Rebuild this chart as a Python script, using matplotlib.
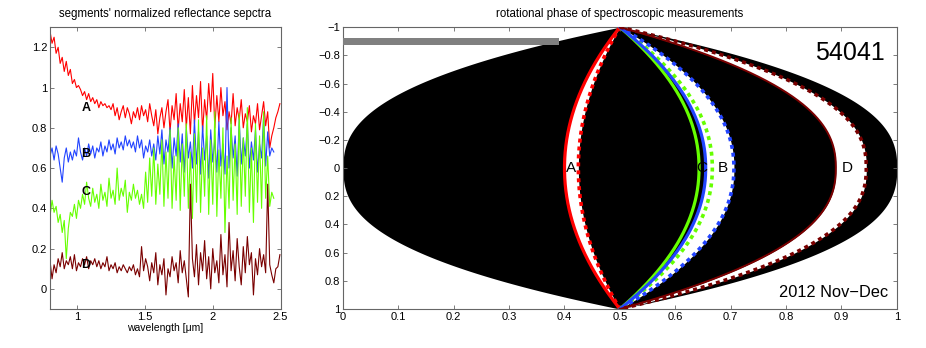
import numpy as np
import matplotlib
matplotlib.use('Agg')
import matplotlib.pyplot as plt

plt.rcParams['font.family'] = ['Liberation Sans', 'DejaVu Sans']

# --- left panel: normalized reflectance spectra ---
wl_start = 0.80
wl_step = 0.015

spec_A = [1.28, 1.22, 1.25, 1.17, 1.20, 1.12, 1.15, 1.08, 1.13, 1.06, 1.09, 1.02, 1.04, 1.00,
          1.01, 0.99, 0.96, 0.98, 0.94, 0.97, 0.93, 0.95, 0.92, 0.94, 0.90, 0.93, 0.91, 0.92,
          0.90, 0.91, 0.89, 0.92, 0.86, 0.90, 0.84, 0.88, 0.91, 0.85, 0.90, 0.87, 0.82, 0.88,
          0.85, 0.90, 0.84, 0.91, 0.86, 0.89, 0.83, 0.92, 0.86, 0.81, 0.89, 0.77, 0.85, 0.90,
          0.80, 0.88, 0.94, 0.78, 0.91, 0.84, 0.97, 0.79, 0.92, 0.83, 0.99, 0.80, 0.95, 0.77,
          1.01, 0.82, 0.96, 0.85, 1.03, 0.78, 0.94, 0.84, 1.02, 0.88, 1.07, 0.80, 0.96, 0.83,
          1.00, 0.86, 0.93, 0.79, 0.88, 0.82, 0.97, 0.81, 0.90, 0.84, 0.94, 0.80, 0.87, 0.83,
          0.91, 0.78, 0.86, 0.82, 0.92, 0.79, 0.86, 0.93, 0.81, 0.88, 0.70, 0.76, 0.80, 0.85,
          0.88, 0.92]

spec_B = [0.66, 0.70, 0.64, 0.71, 0.67, 0.60, 0.53, 0.65, 0.70, 0.63, 0.68, 0.64, 0.69, 0.66,
          0.75, 0.68, 0.64, 0.70, 0.66, 0.72, 0.67, 0.71, 0.65, 0.70, 0.68, 0.73, 0.66, 0.71,
          0.68, 0.74, 0.69, 0.72, 0.67, 0.75, 0.70, 0.73, 0.69, 0.76, 0.71, 0.74, 0.70, 0.73,
          0.68, 0.76, 0.70, 0.74, 0.65, 0.71, 0.68, 0.74, 0.66, 0.72, 0.64, 0.76, 0.67, 0.79,
          0.62, 0.74, 0.68, 0.80, 0.60, 0.75, 0.66, 0.82, 0.63, 0.77, 0.58, 0.80, 0.65, 0.73,
          0.60, 0.84, 0.62, 0.78, 0.57, 0.81, 0.64, 0.76, 0.55, 0.79, 0.63, 0.74, 0.58, 0.83,
          0.61, 0.72, 0.57, 1.00, 0.60, 0.80, 0.65, 0.76, 0.56, 0.84, 0.62, 0.75, 0.66, 0.82,
          0.60, 0.73, 0.64, 0.79, 0.58, 0.72, 0.65, 0.86, 0.61, 0.78, 0.66, 0.70, 0.68]

spec_C = [0.36, 0.44, 0.38, 0.41, 0.33, 0.37, 0.28, 0.34, 0.15, 0.30, 0.38, 0.36, 0.42, 0.35,
          0.44, 0.40, 0.47, 0.42, 0.53, 0.45, 0.41, 0.50, 0.43, 0.47, 0.40, 0.52, 0.44, 0.48,
          0.41, 0.55, 0.45, 0.49, 0.42, 0.60, 0.44, 0.50, 0.46, 0.54, 0.38, 0.48, 0.44, 0.52,
          0.45, 0.49, 0.42, 0.47, 0.40, 0.58, 0.43, 0.65, 0.46, 0.70, 0.42, 0.62, 0.47, 0.74,
          0.41, 0.68, 0.45, 0.79, 0.40, 0.66, 0.44, 0.80, 0.39, 0.72, 0.46, 0.82, 0.40, 0.68,
          0.35, 0.77, 0.43, 0.84, 0.38, 0.70, 0.46, 0.86, 0.37, 0.74, 0.42, 0.88, 0.36, 0.69,
          0.45, 0.80, 0.28, 0.66, 0.40, 0.85, 0.44, 0.72, 0.37, 0.87, 0.41, 0.75, 0.46, 0.90,
          0.38, 0.70, 0.33, 0.82, 0.43, 0.76, 0.40, 0.88, 0.45, 0.66, 0.41, 0.48, 0.45]

spec_D = [0.14, 0.05, 0.12, 0.08, 0.15, 0.11, 0.18, 0.10, 0.14, 0.12, 0.16, 0.10, 0.17, 0.09,
          0.13, 0.11, 0.15, 0.12, 0.16, 0.10, 0.14, 0.12, 0.15, 0.11, 0.14, 0.10, 0.13, 0.11,
          0.16, 0.09, 0.12, 0.10, 0.13, 0.08, 0.11, 0.09, 0.12, 0.10, 0.08, 0.11, 0.09, 0.12,
          0.07, 0.10, 0.06, 0.21, 0.09, 0.15, 0.11, 0.04, 0.13, 0.08, 0.18, 0.02, 0.12, 0.07,
          0.15, -0.03, 0.10, 0.06, 0.16, 0.09, 0.13, 0.03, 0.19, 0.08, 0.14, 0.05, -0.04, 0.52,
          0.15, 0.06, 0.22, 0.02, 0.18, 0.09, 0.24, 0.05, 0.16, 0.00, 0.20, 0.08, 0.14, 0.03,
          0.27, 0.07, 0.17, 0.01, 0.33, 0.09, 0.19, 0.04, 0.25, 0.11, 0.02, 0.21, 0.08, 0.26,
          0.12, 0.18, -0.03, 0.15, 0.07, 0.20, 0.11, 0.17, 0.08, 0.52, 0.12, 0.07, 0.03, 0.10,
          0.11, 0.17]

seg_names = ['A', 'B', 'C', 'D']
seg_colors = ['#ff0000', '#2244ff', '#66ff00', '#7a0000']
spec_label_y = [0.90, 0.67, 0.48, 0.12]

# --- right panel: rotational phases (at the equator) of the measurements ---
phase_start = [0.400, 0.655, 0.643, 0.890]
phase_end = [0.425, 0.706, 0.667, 0.945]
phase_label_x = [0.412, 0.686, 0.648, 0.911]
coverage_bar = 0.39

fig = plt.figure(figsize=(9.26, 3.48), dpi=100)
ax1 = fig.add_axes([0.054, 0.112, 0.249, 0.810])
ax2 = fig.add_axes([0.3704, 0.112, 0.598, 0.810])

for spec, col in zip([spec_A, spec_B, spec_C, spec_D], seg_colors):
    w = wl_start + wl_step * np.arange(len(spec))
    ax1.plot(w, spec, color=col, lw=0.8)
for name, yy in zip(seg_names, spec_label_y):
    ax1.text(1.03, yy, name, fontsize=9, fontweight='bold', va='center', ha='left')

ax1.set_xlim(0.8, 2.5)
ax1.set_ylim(-0.1, 1.3)
ax1.set_xticks([1, 1.5, 2, 2.5])
ax1.set_xticklabels(['1', '1.5', '2', '2.5'])
ax1.set_yticks([0, 0.2, 0.4, 0.6, 0.8, 1.0, 1.2])
ax1.set_yticklabels(['0', '0.2', '0.4', '0.6', '0.8', '1', '1.2'])
ax1.set_xlabel('wavelength [\u03bcm]', fontsize=7.5, labelpad=1)
ax1.set_title("segments' normalized reflectance sepctra", fontsize=8.3, pad=7)


# meridian of a given phase, squeezed towards 0.5 at the poles
def meridian(p, y):
    d = p - 0.5
    k = 1.9 + 1.2 * abs(d)
    return 0.5 + d * (1 - np.abs(y) ** k)


yy = np.linspace(-1, 1, 801)
ax2.fill_betweenx(yy, meridian(0.0, yy), meridian(1.0, yy), color='black', lw=0, zorder=1)
for i in [0, 1, 3]:
    ax2.fill_betweenx(yy, meridian(phase_start[i], yy), meridian(phase_end[i], yy),
                      color='white', lw=0, zorder=2)
for i in [0, 2, 1, 3]:
    lw_solid = 1.4 if i == 3 else 2.3
    ax2.plot(meridian(phase_start[i], yy), yy, color=seg_colors[i], lw=lw_solid, zorder=3)
    ax2.plot(meridian(phase_end[i], yy), yy, color=seg_colors[i], lw=2.6,
             dashes=(1.1, 1.1), dash_capstyle='butt', zorder=3)
for i in range(4):
    ax2.text(phase_label_x[i], 0, seg_names[i], fontsize=11, ha='center', va='center', zorder=4)

ax2.barh(-0.897, coverage_bar, height=0.054, left=0, color='#808080', zorder=5)
ax2.text(0.978, -0.82, '54041', fontsize=18, ha='right', va='center')
ax2.text(0.984, 0.885, '2012 Nov\u2212Dec', fontsize=11.8, ha='right', va='center')

ax2.set_xlim(0, 1)
ax2.set_ylim(1, -1)
ax2.set_xticks(np.arange(0, 1.01, 0.1))
ax2.set_xticklabels(['0', '0.1', '0.2', '0.3', '0.4', '0.5', '0.6', '0.7', '0.8', '0.9', '1'])
yt = np.arange(-1, 1.01, 0.2)
ax2.set_yticks(yt)
ax2.set_yticklabels(['\u22121', '\u22120.8', '\u22120.6', '\u22120.4', '\u22120.2', '0',
                     '0.2', '0.4', '0.6', '0.8', '1'])
ax2.set_title('rotational phase of spectroscopic measurements', fontsize=8.3, pad=7)

for ax in (ax1, ax2):
    ax.tick_params(direction='in', top=True, right=True, length=3, width=0.6,
                   labelsize=8, pad=2, colors='0.4', labelcolor='black')
    for s in ax.spines.values():
        s.set_color('0.4')
        s.set_linewidth(0.8)

fig.savefig('out.png', dpi=100)
